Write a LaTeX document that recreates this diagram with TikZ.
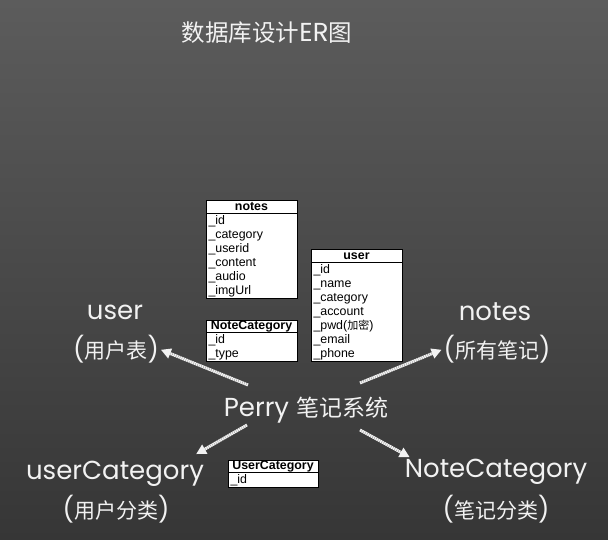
\documentclass[tikz,border=0pt]{standalone}
\usepackage{fontspec}
\setmainfont{Liberation Sans}
\newfontfamily\cjk{Noto Sans CJK SC}
\newfontfamily\chalkfont{Poppins}
\usetikzlibrary{arrows.meta}
\usetikzlibrary{positioning}
\definecolor{bgtop}{RGB}{92,92,92}
\definecolor{bgmid}{RGB}{80,80,80}
\definecolor{bgbot}{RGB}{54,54,54}
\definecolor{chalk}{RGB}{242,242,242}

\tikzset{
  tblhead/.style={draw=black, fill=white, line width=1pt, outer sep=0pt,
    minimum width=91pt, inner sep=0pt, text height=9.5pt, text depth=3pt,
    font=\fontsize{12.4}{14}\selectfont\bfseries},
  tblbody/.style={draw=black, fill=white, line width=1pt, outer sep=0pt,
    text width=86pt, inner xsep=2.5pt, inner ysep=1.8pt, align=left,
    font=\fontsize{12.4}{14}\selectfont},
  lbl/.style={text=chalk, inner sep=0pt, font=\chalkfont\fontsize{26}{28}\selectfont},
  cnlbl/.style={text=chalk, inner sep=0pt, font=\cjk\fontsize{21}{23}\selectfont},
  arr/.style={-{Triangle[length=10pt,width=10pt]}, draw=chalk, line width=3pt,
    dash pattern=on 1.6pt off 0.5pt}
}
\newcommand{\pl}{{\chalkfont\fontsize{25}{27}\selectfont(}}
\newcommand{\pr}{{\chalkfont\fontsize{25}{27}\selectfont)}}

\begin{document}
\begin{tikzpicture}[x=1pt, y=-1pt]
        % fond
        \useasboundingbox (0,0) rectangle (608,540);
        \shade[top color=bgtop, middle color=bgmid, bottom color=bgbot] (0,0) rectangle (608,540);

        % titre
        \node[cnlbl, font=\cjk\fontsize{23.5}{25}\selectfont] (title) at (267,33) {数据库设计{\chalkfont\fontsize{26}{27}\selectfont ER}图};

        % tables
        \node[tblhead, anchor=north west] (notes) at (206,201) {notes};
        \node[tblbody, below=0pt of notes] (notesf) {\_id\\\_category\\\_userid\\\_content\\\_audio\\\_imgUrl};

        \node[tblhead, anchor=north west] (user) at (311,250) {user};
        \node[tblbody, below=0pt of user] (userf) {\_id\\\_name\\\_category\\\_account\\\_pwd({\cjk\fontsize{11}{14}\selectfont 加密})\\\_email\\\_phone};

        \node[tblhead, anchor=north west] (notecat) at (206,320) {NoteCategory};
        \node[tblbody, below=0pt of notecat] (notecatf) {\_id\\\_type};

        \node[tblhead, anchor=north west, minimum width=90pt] (usercat) at (228,460) {UserCategory};
        \node[tblbody, below=0pt of usercat, text width=85pt] (usercatf) {\_id};

        % libelles
        \node[lbl] (userlb) at (115,312) {user};
        \node[cnlbl] (usercn) at (116,349) {\pl 用户表\pr};
        \node[lbl] (noteslb) at (495,312) {notes};
        \node[cnlbl] (notescn) at (497,349) {\pl 所有笔记\pr};
        \node[lbl] (perry) at (306,410) {Perry {\cjk\fontsize{23}{25}\selectfont 笔记系统}};
        \node[lbl] (usercatlb) at (115,474) {userCategory};
        \node[cnlbl] (usercatcn) at (116,509) {\pl 用户分类\pr};
        \node[lbl] (notecatlb) at (496,472) {NoteCategory};
        \node[cnlbl] (notecatcn) at (496,509) {\pl 笔记分类\pr};

        % fleches
        \coordinate (t1) at (248,385);
        \coordinate (t2) at (360,383);
        \coordinate (t3) at (247,425);
        \coordinate (t4) at (360,430);
        \draw[arr, shorten >=2pt] (t1) -- (usercn.east);
        \draw[arr, shorten >=2pt] (t2) -- (notescn.west);
        \draw[arr] (t3) -- ([xshift=-8pt,yshift=7pt]usercatlb.north east);
        \draw[arr] (t4) -- ([xshift=5pt,yshift=2pt]notecatlb.north west);
    \end{tikzpicture}
\end{document}
